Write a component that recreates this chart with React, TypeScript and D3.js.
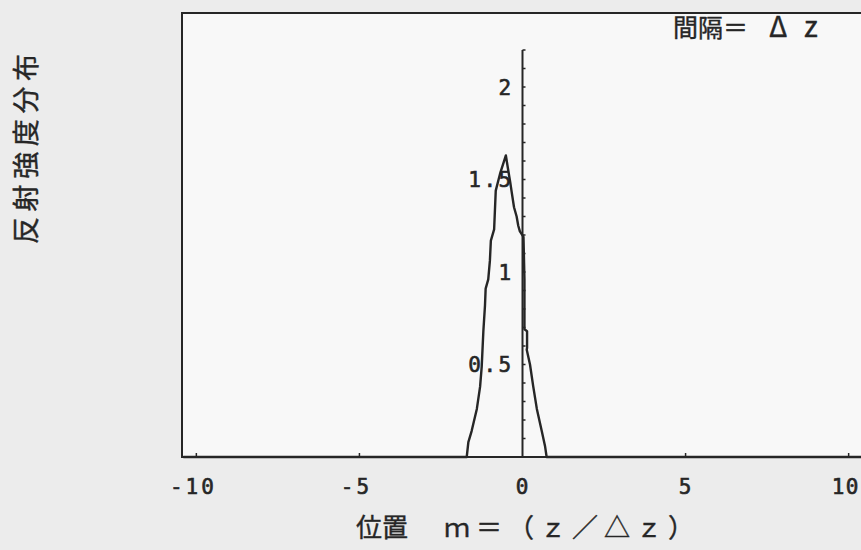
import React, { useEffect, useRef } from "react";
import * as d3 from "d3";

// reflected intensity profile
const positions = [
  -10.4, -1.71, -1.66, -1.56, -1.4, -1.3, -1.25, -1.2, -1.15, -1.13, -1.05, -1.0, -0.97,
  -0.87, -0.82, -0.69, -0.51, -0.41, -0.38, -0.33, -0.26, -0.18, -0.13, -0.08, 0.03,
  0.06, 0.06, 0.14, 0.14, 0.13, 0.23, 0.33, 0.44, 0.59, 0.69, 0.74, 10.4,
];
const intensities = [
  0, 0, 0.08, 0.14, 0.26, 0.38, 0.49, 0.68, 0.82, 0.91, 0.96, 1.06, 1.17,
  1.23, 1.44, 1.53, 1.63, 1.52, 1.49, 1.43, 1.35, 1.3, 1.25, 1.22, 1.19,
  0.96, 0.69, 0.68, 0.59, 0.58, 0.5, 0.38, 0.26, 0.14, 0.06, 0, 0,
];

const xTicks = [-10, -5, 0, 5, 10];
const xTickLabels = ["-10", "-5", "0", "5", "10"];
const yTicks = [0.5, 1, 1.5, 2];
const yTickLabels = ["0.5", "1", "1.5", "2"];

const yTitle = "反射強度分布";
const xTitleA = "位置";
const xTitleB = "ｍ＝（ｚ／△ｚ）";
const notePieces = ["間隔＝", "Δ", "z"];

const W = 861;
const H = 550;
const ink = "#262626";
const cjk = "'Noto Sans CJK JP', sans-serif";
const mono = "'DejaVu Sans Mono', monospace";

export default function App() {
  const ref = useRef<SVGSVGElement>(null);

  useEffect(() => {
    const svg = d3.select(ref.current);
    svg.selectAll("*").remove();

    const x = d3.scaleLinear().domain([-10.44, 10.44]).range([182, 863]);
    const y = d3.scaleLinear().domain([0, 2.4]).range([457, 13]);

    // paper
    svg.append("rect").attr("width", W).attr("height", H).attr("fill", "#ececec");
    svg.append("rect")
      .attr("x", x(-10.44)).attr("y", y(2.4))
      .attr("width", x(10.44) - x(-10.44)).attr("height", y(0) - y(2.4))
      .attr("fill", "#f8f8f8")
      .attr("stroke", ink).attr("stroke-width", 2);

    // y axis with little ticks every 0.1
    const yAxis = svg.append("g");
    yAxis.append("line")
      .attr("x1", x(0)).attr("x2", x(0))
      .attr("y1", y(0)).attr("y2", y(2.2))
      .attr("stroke", ink).attr("stroke-width", 2);
    yAxis.selectAll("line.minor")
      .data(d3.range(1, 23).map(i => i / 10))
      .join("line")
      .attr("class", "minor")
      .attr("x1", x(0)).attr("x2", x(0) + 3)
      .attr("y1", d => y(d)).attr("y2", d => y(d))
      .attr("stroke", ink).attr("stroke-width", 1.5);
    yAxis.selectAll("text")
      .data(yTicks)
      .join("text")
      .attr("x", x(0) - 9)
      .attr("y", d => y(d))
      .attr("dy", "0.36em")
      .attr("text-anchor", "end")
      .attr("font-family", mono)
      .attr("font-size", 21)
      .attr("letter-spacing", 2.4)
      .attr("fill", ink)
      .attr("stroke", ink).attr("stroke-width", 0.6)
      .text((d, i) => yTickLabels[i]);

    // x axis
    const xAxis = svg.append("g");
    xAxis.append("line")
      .attr("x1", x(-10.44)).attr("x2", W)
      .attr("y1", y(0)).attr("y2", y(0))
      .attr("stroke", ink).attr("stroke-width", 2);
    xAxis.selectAll("line.tick")
      .data(xTicks.filter(d => d !== 0))
      .join("line")
      .attr("class", "tick")
      .attr("x1", d => x(d)).attr("x2", d => x(d))
      .attr("y1", y(0)).attr("y2", y(0) - 4)
      .attr("stroke", ink).attr("stroke-width", 1.5);
    xAxis.selectAll("text")
      .data(xTicks)
      .join("text")
      .attr("x", (d, i) => {
        if (d === 10) return 860;
        return x(d) - (xTickLabels[i].startsWith("-") ? 3 : -1);
      })
      .attr("y", 494)
      .attr("text-anchor", d => (d === 10 ? "end" : "middle"))
      .attr("font-family", mono)
      .attr("font-size", 21)
      .attr("letter-spacing", d => (d === 10 ? 1.5 : 3))
      .attr("fill", ink)
      .attr("stroke", ink).attr("stroke-width", 0.6)
      .text((d, i) => xTickLabels[i]);

    // profile
    const line = d3.line<number>()
      .x((d, i) => x(positions[i]))
      .y(d => y(d));
    svg.append("path")
      .attr("d", line(intensities))
      .attr("fill", "none")
      .attr("stroke", ink)
      .attr("stroke-width", 2.4)
      .attr("stroke-linejoin", "round");

    // titles
    svg.append("text")
      .attr("transform", "translate(26,149) rotate(-90)")
      .attr("text-anchor", "middle")
      .attr("dy", "0.36em")
      .attr("font-family", cjk)
      .attr("font-size", 27)
      .attr("textLength", 190)
      .attr("lengthAdjust", "spacing")
      .attr("fill", ink)
      .attr("stroke", ink).attr("stroke-width", 0.4)
      .text(yTitle);

    svg.append("text")
      .attr("x", 356).attr("y", 537)
      .attr("font-family", cjk)
      .attr("font-size", 26)
      .attr("fill", ink)
      .attr("stroke", ink).attr("stroke-width", 0.4)
      .text(xTitleA);
    svg.append("text")
      .attr("x", 444).attr("y", 537)
      .attr("font-family", cjk)
      .attr("font-size", 26)
      .attr("textLength", 250)
      .attr("lengthAdjust", "spacing")
      .attr("fill", ink)
      .attr("stroke", ink).attr("stroke-width", 0.4)
      .text(xTitleB);

    const note = svg.append("text")
      .attr("y", 37)
      .attr("font-family", cjk)
      .attr("font-size", 25)
      .attr("fill", ink)
      .attr("stroke", ink).attr("stroke-width", 0.4);
    note.append("tspan").attr("x", 673).text(notePieces[0]);
    note.append("tspan").attr("x", 769).attr("font-size", 28).text(notePieces[1]);
    note.append("tspan").attr("x", 804).attr("font-size", 29).text(notePieces[2]);
  }, []);

  return (
    <svg
      ref={ref}
      width={W}
      height={H}
      style={{ position: "absolute", left: 0, top: 0, display: "block" }}
    />
  );
}
